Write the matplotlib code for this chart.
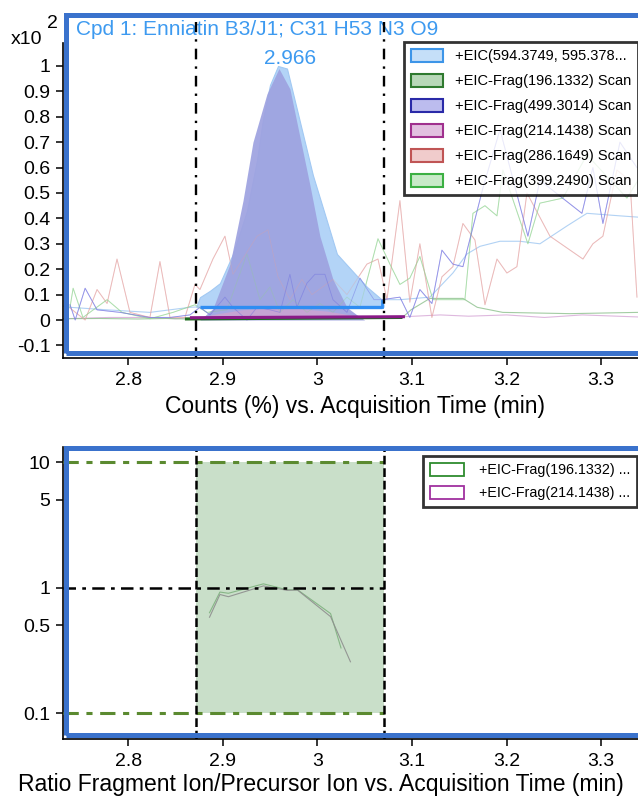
import matplotlib
matplotlib.use('Agg')
import matplotlib.pyplot as plt
from matplotlib.patches import Patch, Rectangle

plt.rcParams['font.family'] = ['Liberation Sans', 'DejaVu Sans']

# ---------------- data ----------------
rt_start, rt_end = 2.872, 3.070
peak_rt_label = "2.966"
title_text = "Cpd 1: Enniatin B3/J1; C31 H53 N3 O9"

# precursor EIC (594.3749) filled peak, in units of x10^2 %
eic_t = [2.8720, 2.8759, 2.8865, 2.8970, 2.9108, 2.9256, 2.9362, 2.9425, 2.9499, 2.9584,
         2.9679, 2.9816, 2.9953, 3.0101, 3.0207, 3.0390, 3.0525, 3.0683, 3.0700]
eic_v = [0.052, 0.090, 0.115, 0.145, 0.260, 0.430, 0.630, 0.790, 0.925, 1.000,
         0.990, 0.780, 0.570, 0.390, 0.260, 0.185, 0.130, 0.080, 0.060]
eic_base = 0.052

# fragment 499.3014 filled peak
f499_t = [2.8759, 2.8896, 2.9076, 2.9214, 2.9319, 2.9467, 2.9594, 2.9710, 2.9816, 2.9922,
          3.0027, 3.0165, 3.0313, 3.0419, 3.0500]
f499_v = [0.000, 0.045, 0.220, 0.470, 0.700, 0.890, 0.990, 0.910, 0.720, 0.530,
          0.330, 0.160, 0.050, 0.020, 0.000]

# fragment 214.1438 small filled peak
f214_t = [2.8759, 2.8950, 2.9200, 2.9500, 2.9800, 3.0100, 3.0350, 3.0500]
f214_v = [0.012, 0.025, 0.040, 0.048, 0.045, 0.035, 0.020, 0.012]

# baselines
base214_t = [2.8653, 3.0926]
base214_v = [0.009, 0.013]
base196_t = [2.8600, 3.0900]
base196_v = [0.004, 0.010]

# noisy traces outside / under the peaks
n286_t = [2.7385, 2.7545, 2.7671, 2.7777, 2.7882, 2.8019, 2.8230, 2.8336, 2.8442, 2.8600,
          2.8706, 2.8759, 2.8896, 2.9023, 2.9108, 2.9362, 2.9478, 2.9584, 2.9710, 2.9837,
          2.9943, 3.0165, 3.0313, 3.0524, 3.0641, 3.0736, 3.0873, 3.0978, 3.1084, 3.1211,
          3.1317, 3.1433, 3.1539, 3.1666, 3.1772, 3.1899, 3.2004, 3.2110, 3.2216, 3.2459,
          3.2808, 3.2913, 3.3019, 3.3167, 3.3305, 3.3379]
n286_v = [0.047, 0.000, 0.120, 0.065, 0.240, 0.030, 0.010, 0.230, 0.010, 0.010,
          0.140, 0.120, 0.240, 0.330, 0.180, 0.330, 0.355, 0.170, 0.080, 0.160,
          0.100, 0.160, 0.100, 0.220, 0.240, 0.080, 0.470, 0.070, 0.300, 0.010,
          0.170, 0.210, 0.380, 0.315, 0.060, 0.240, 0.185, 0.210, 0.500, 0.330,
          0.240, 0.300, 0.330, 0.590, 0.550, 0.090]

n499_t = [2.7385, 2.7440, 2.7545, 2.7671, 2.7914, 2.8230, 2.8442, 2.8653, 2.8759, 2.8865,
          2.9023, 2.9108, 2.9256, 2.9362, 2.9499, 2.9605, 2.9710, 2.9784, 2.9890, 2.9975,
          3.0080, 3.0165, 3.0313, 3.0450, 3.0599, 3.0683, 3.0873, 3.0978, 3.1084, 3.1211,
          3.1317, 3.1433, 3.1539, 3.1751, 3.1931, 3.2226, 3.2353, 3.2797, 3.2913, 3.3019,
          3.3199, 3.3379]
n499_v = [0.060, 0.000, 0.125, 0.040, 0.030, 0.010, 0.010, 0.020, 0.050, 0.020,
          0.090, 0.050, 0.000, 0.050, 0.040, 0.030, 0.180, 0.050, 0.145, 0.180,
          0.180, 0.080, 0.030, 0.165, 0.080, 0.080, 0.090, 0.010, 0.120, 0.065,
          0.275, 0.220, 0.210, 0.520, 0.750, 0.330, 0.550, 0.420, 0.600, 0.380,
          0.700, 0.600]

n399_t = [2.7385, 2.7418, 2.7522, 2.7777, 2.7935, 2.8230, 2.8474, 2.8706, 2.8833, 2.9044,
          2.9256, 2.9393, 2.9499, 2.9605, 2.9742, 2.9890, 3.0027, 3.0165, 3.0313, 3.0450,
          3.0641, 3.0767, 3.0873, 3.0978, 3.1084, 3.1222, 3.1560, 3.1645, 3.1772, 3.1899,
          3.1962, 3.2226, 3.2353, 3.2596, 3.2850, 3.3273, 3.3390]
n399_v = [0.050, 0.125, 0.010, 0.080, 0.030, 0.005, 0.030, 0.060, 0.030, 0.040,
          0.260, 0.080, 0.130, 0.030, 0.080, 0.030, 0.065, 0.030, 0.090, 0.050,
          0.320, 0.220, 0.140, 0.165, 0.250, 0.080, 0.080, 0.420, 0.450, 0.410,
          0.590, 0.300, 0.460, 0.480, 0.650, 0.480, 0.550]

n196_t = [2.7311, 2.7700, 2.8100, 2.8400, 2.8600, 3.0900, 3.0990, 3.1190, 3.1540, 3.1690,
          3.1960, 3.2670, 3.3390]
n196_v = [0.005, 0.006, 0.004, 0.006, 0.004, 0.010, 0.040, 0.085, 0.085, 0.050,
          0.030, 0.025, 0.030]

n594_t = [2.7311, 2.7385, 2.7777, 2.8230, 2.8653, 2.8759, 3.0683, 3.0873, 3.1190, 3.1433,
          3.1582, 3.1719, 3.1931, 3.2142, 3.2353, 3.2638, 3.2850, 3.3199, 3.3390]
n594_v = [0.055, 0.050, 0.040, 0.030, 0.050, 0.052, 0.080, 0.080, 0.090, 0.185,
          0.260, 0.290, 0.310, 0.310, 0.300, 0.370, 0.420, 0.410, 0.405]

n214_t = [2.7311, 2.7800, 2.8200, 2.8500, 2.8653, 3.0926, 3.1300, 3.1600, 3.2000, 3.2400,
          3.2800, 3.3390]
n214_v = [0.005, 0.010, 0.010, 0.005, 0.009, 0.013, 0.020, 0.015, 0.020, 0.010,
          0.020, 0.012]

legend_labels = ["+EIC(594.3749, 595.378...", "+EIC-Frag(196.1332) Scan",
                 "+EIC-Frag(499.3014) Scan", "+EIC-Frag(214.1438) Scan",
                 "+EIC-Frag(286.1649) Scan", "+EIC-Frag(399.2490) Scan"]

# ratio panel
ratio_t = [2.886, 2.897, 2.906, 2.943, 2.968, 2.979, 3.014]
ratio196_v = [0.63, 0.92, 0.90, 1.07, 0.96, 0.96, 0.62]
ratio196_end = (3.025, 0.33)
ratio214_v = [0.58, 0.88, 0.845, 1.03, 0.95, 0.955, 0.586]
ratio214_end = (3.035, 0.256)
ratio_upper, ratio_expected, ratio_lower = 10, 1, 0.1
ratio_legend = ["+EIC-Frag(196.1332) ...", "+EIC-Frag(214.1438) ..."]

xticks = [2.8, 2.9, 3.0, 3.1, 3.2, 3.3]
xticklabels = ["2.8", "2.9", "3", "3.1", "3.2", "3.3"]
yticks1 = [-0.1, 0, 0.1, 0.2, 0.3, 0.4, 0.5, 0.6, 0.7, 0.8, 0.9, 1]
yticklabels1 = ["-0.1", "0", "0.1", "0.2", "0.3", "0.4", "0.5", "0.6", "0.7", "0.8", "0.9", "1"]
yticks2 = [0.1, 0.5, 1, 5, 10]
yticklabels2 = ["0.1", "0.5", "1", "5", "10"]

# ---------------- figure ----------------
W, H = 638, 799
fig = plt.figure(figsize=(W / 100, H / 100), dpi=100)


def fx(px):
    return px / W


def fy(py):
    return 1 - py / H


FRAME = '#3a72cc'
TXTBLUE = '#3d9af0'
TICKSIZE = 14

# ======== top panel ========
ax1 = fig.add_axes([fx(63), fy(358), fx(638) - fx(63), fy(14) - fy(358)])
ax1.set_xlim(2.7311, 3.3390)
ax1.set_ylim(-0.1496, 1.2047)

# noise traces
ax1.plot(n214_t, n214_v, color='#d6a6d6', lw=0.8, alpha=0.8, zorder=1)
ax1.plot(n196_t, n196_v, color='#8cc08c', lw=0.8, alpha=0.8, zorder=1)
ax1.plot(n594_t, n594_v, color='#a9cdf3', lw=0.8, alpha=0.9, zorder=1)
ax1.plot(n286_t, n286_v, color='#e8a8a8', lw=0.7, alpha=0.65, zorder=1)
ax1.plot(n399_t, n399_v, color='#98d898', lw=0.7, alpha=0.65, zorder=1)
ax1.plot(n499_t, n499_v, color='#8c8ce6', lw=0.7, alpha=0.65, zorder=1)

# filled peaks
ax1.fill_between(eic_t, eic_base, eic_v, color='#b3d4f7', lw=0.8, edgecolor='#a2c9f3', zorder=2)
ax1.fill_between(f499_t, 0, f499_v, color='#9ea2e0', alpha=0.92, lw=0, zorder=3)
ax1.fill_between(f214_t, base214_v[0], f214_v, color='#cfa3d0', alpha=0.8, lw=0, zorder=3)

# faint noise visible over the fills
ax1.plot(n286_t, n286_v, color='#e0a0a0', lw=0.6, alpha=0.35, zorder=4)
ax1.plot(n399_t, n399_v, color='#90d090', lw=0.6, alpha=0.35, zorder=4)
ax1.plot(n499_t, n499_v, color='#6a6ae0', lw=0.6, alpha=0.45, zorder=4)

# baselines
ax1.plot(base196_t, base196_v, color='#1d6b1d', lw=2.2, zorder=5, solid_capstyle='butt')
ax1.plot(base214_t, base214_v, color='#8a1a88', lw=2.2, zorder=6, solid_capstyle='butt')
ax1.plot([eic_t[1], eic_t[-2]], [eic_base, eic_base], color='#2f8df2', lw=2.4, zorder=6,
         solid_capstyle='butt')
ax1.plot([eic_t[-2], eic_t[-2]], [eic_base, 0.075], color='#2f8df2', lw=2.0, zorder=6)

# integration limits
for t in (rt_start, rt_end):
    ax1.plot([t, t], [-0.1496, 1.173], color='black', lw=1.7, dashes=(4.5, 3, 1, 3),
             zorder=7, clip_on=False)

ax1.text(2.7450, 1.142, title_text, color=TXTBLUE, fontsize=15, ha='left', va='center', zorder=3)
ax1.text(2.9710, 1.030, peak_rt_label, color=TXTBLUE, fontsize=15, ha='center', va='center', zorder=3)

for s in ('top', 'right'):
    ax1.spines[s].set_visible(False)
ax1.spines['left'].set_bounds(-0.1496, 1.09)
ax1.spines['left'].set_linewidth(1.2)
ax1.spines['bottom'].set_linewidth(1.2)
ax1.set_xticks(xticks)
ax1.set_xticklabels(xticklabels)
ax1.set_yticks(yticks1)
ax1.set_yticklabels(yticklabels1)
ax1.tick_params(axis='both', labelsize=TICKSIZE, length=5, width=1.1, direction='out')
ax1.tick_params(axis='x', pad=5)
ax1.tick_params(axis='y', pad=4)

faces = ['#c5dff8', '#b8d8b8', '#bcbcee', '#e2c0e0', '#f0cccc', '#c8eac8']
edges = ['#3d95e8', '#2f7a2f', '#2a2aa8', '#a0308e', '#c05555', '#3cb043']
handles = [Patch(facecolor=f, edgecolor=e, lw=1.5) for f, e in zip(faces, edges)]
leg1 = ax1.legend(handles, legend_labels, loc='upper left',
                  bbox_to_anchor=(fx(404), fy(42)), bbox_transform=fig.transFigure,
                  fontsize=10.5, frameon=True, fancybox=False, borderaxespad=0,
                  handlelength=2.2, handleheight=1.0, handletextpad=0.85,
                  labelspacing=0.72, borderpad=0.45)
leg1.get_frame().set_edgecolor('black')
leg1.get_frame().set_linewidth(2)
leg1.set_zorder(10)

# ======== bottom panel ========
ax2 = fig.add_axes([fx(63), fy(739), fx(638) - fx(63), fy(447) - fy(739)])
ax2.set_yscale('log')
ax2.set_xlim(2.7311, 3.3390)
ax2.set_ylim(0.0621, 13.17)

ax2.fill_between([rt_start, rt_end], ratio_lower, ratio_upper, color='#c9dfc9', lw=0, zorder=1)
ax2.plot(ratio_t + [ratio196_end[0]], ratio196_v + [ratio196_end[1]], color='#7fb27f',
         lw=0.8, alpha=0.9, zorder=3)
ax2.plot(ratio_t + [ratio214_end[0]], ratio214_v + [ratio214_end[1]], color='#8e8e8e',
         lw=0.8, alpha=0.9, zorder=3)
ax2.plot([2.7311, rt_end], [ratio_upper, ratio_upper], color='#5b8a30', lw=2.2,
         dashes=(5, 2.5, 2, 2.5), zorder=4)
ax2.plot([2.7311, rt_end], [ratio_lower, ratio_lower], color='#5b8a30', lw=2.2,
         dashes=(5, 2.5, 2, 2.5), zorder=4)
ax2.plot([2.7311, rt_end], [ratio_expected, ratio_expected], color='black', lw=1.8,
         dashes=(5, 2.5, 1.5, 2.5), zorder=4)
for t in (rt_start, rt_end):
    ax2.plot([t, t], [0.0621, 13.17], color='black', lw=1.8, dashes=(3.5, 1.5), zorder=5)

for s in ('top', 'right'):
    ax2.spines[s].set_visible(False)
ax2.spines['left'].set_linewidth(1.2)
ax2.spines['bottom'].set_linewidth(1.2)
ax2.set_xticks(xticks)
ax2.set_xticklabels(xticklabels)
ax2.set_yticks(yticks2)
ax2.set_yticklabels(yticklabels2)
ax2.minorticks_off()
ax2.tick_params(axis='both', labelsize=TICKSIZE, length=5, width=1.1, direction='out')
ax2.tick_params(axis='x', pad=5)
ax2.tick_params(axis='y', pad=4)

handles2 = [Patch(facecolor='white', edgecolor='#2e8b2e', lw=1.3),
            Patch(facecolor='white', edgecolor='#a0309f', lw=1.3)]
leg2 = ax2.legend(handles2, ratio_legend, loc='upper left',
                  bbox_to_anchor=(fx(423), fy(456)), bbox_transform=fig.transFigure,
                  fontsize=10.3, frameon=True, fancybox=False, borderaxespad=0,
                  handlelength=2.4, handleheight=1.0, handletextpad=1.0,
                  labelspacing=0.6, borderpad=0.5)
leg2.get_frame().set_edgecolor('black')
leg2.get_frame().set_linewidth(2)
leg2.set_zorder(10)

# ======== frames and figure texts ========
for (x0, y0, x1, y1) in [(66, 15, 650, 353), (66, 448, 650, 735)]:
    fig.patches.append(Rectangle((fx(x0), fy(y1)), fx(x1) - fx(x0), fy(y0) - fy(y1),
                                 transform=fig.transFigure, fill=False,
                                 edgecolor=FRAME, lw=3.6, zorder=20))

fig.text(fx(11), fy(40), "x10", fontsize=14, ha='left', va='center')
fig.text(fx(47), fy(23), "2", fontsize=14, ha='left', va='center')
fig.text(fx(355), fy(406), "Counts (%) vs. Acquisition Time (min)", fontsize=16.5,
         ha='center', va='center')
fig.text(fx(321), fy(785), "Ratio Fragment Ion/Precursor Ion vs. Acquisition Time (min)",
         fontsize=16.5, ha='center', va='center')

fig.savefig('out.png', dpi=100)
